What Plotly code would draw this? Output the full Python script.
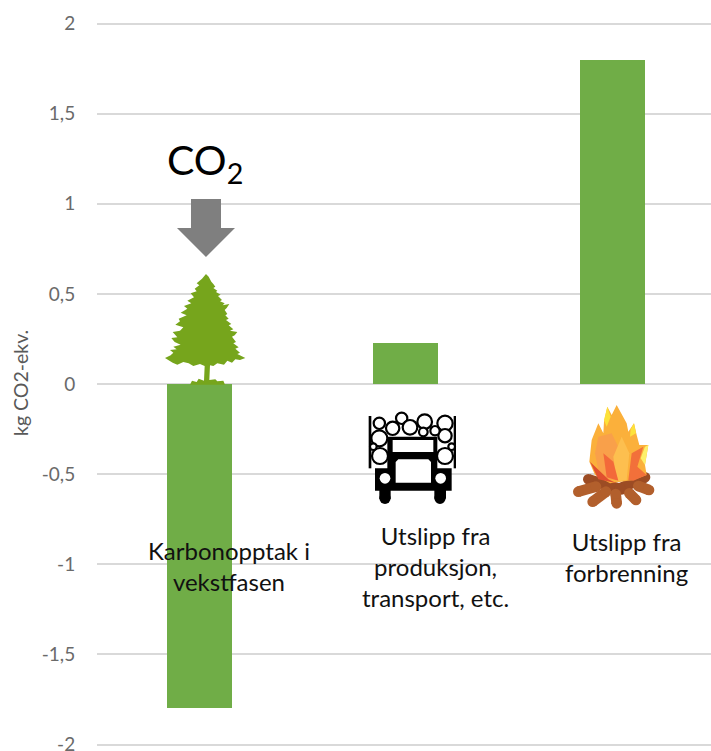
import plotly.graph_objects as go

# ---- data ----
categories = ["Karbonopptak i vekstfasen", "Utslipp fra produksjon, transport, etc.", "Utslipp fra forbrenning"]
values = [-1.8, 0.225, 1.8]
category_labels = ["Karbonopptak i<br>vekstfasen", "Utslipp fra<br>produksjon,<br>transport, etc.", "Utslipp fra<br>forbrenning"]
tick_values = [-2, -1.5, -1, -0.5, 0, 0.5, 1, 1.5, 2]
tick_labels = ["-2", "-1,5", "-1", "-0,5", "0", "0,5", "1", "1,5", "2"]
y_title = "kg CO2-ekv."

W, H = 711, 751
L, R, T, B = 97, 711, 10, 751
FONT = "Lato"


def px(x):
    return (x - L) / (R - L)


def py(y):
    return (B - y) / (B - T)


def path(points, ox=0, oy=0, s=1.0):
    parts = []
    for i, (x, y) in enumerate(points):
        parts.append(f"{'M' if i == 0 else 'L'}{px(ox + x * s):.5f},{py(oy + y * s):.5f}")
    return " ".join(parts) + " Z"


def poly(points, color, ox=0, oy=0, s=1.0, line=None, lw=0):
    return dict(type="path", xref="paper", yref="paper", path=path(points, ox, oy, s),
                fillcolor=color, line=dict(color=line or color, width=lw), layer="above")


def rect(x0, y0, x1, y1, color, ox=0, oy=0, s=1.0):
    return poly([(x0, y0), (x1, y0), (x1, y1), (x0, y1)], color, ox, oy, s)


def circle(cx, cy, r, fill, ox=0, oy=0, s=1.0, line=None, lw=0):
    return dict(type="circle", xref="paper", yref="paper",
                x0=px(ox + (cx - r) * s), x1=px(ox + (cx + r) * s),
                y0=py(oy + (cy + r) * s), y1=py(oy + (cy - r) * s),
                fillcolor=fill, line=dict(color=line or fill, width=lw), layer="above")


shapes = []
# CO2 arrow
ARROW = [(191, 199), (221, 199), (221, 228), (235, 228), (206, 257), (177, 228), (191, 228)]
shapes.append(poly(ARROW, "#7f7f7f"))

# tree silhouette (zoom-crop coordinates)
TREE = [(228, 432), (236, 440), (244, 455), (250, 462), (256, 470), (250, 474), (262, 482), (258, 486), (272, 494),
        (264, 498), (276, 510), (270, 514), (284, 520), (278, 526), (298, 522), (290, 534), (284, 540), (292, 552),
        (286, 556), (296, 566), (288, 570), (304, 582), (296, 586), (310, 598), (300, 602), (322, 606), (314, 616),
        (306, 620), (318, 636), (310, 640), (326, 652), (316, 656), (330, 668), (322, 672), (346, 684), (330, 690),
        (316, 688), (306, 698), (292, 692), (282, 704), (262, 700), (250, 708), (240, 706), (238, 750), (256, 748),
        (262, 754), (280, 752), (285, 764), (180, 764), (186, 752), (200, 756), (206, 746), (222, 752), (224, 708),
        (210, 702), (190, 708), (176, 700), (160, 696), (142, 704), (128, 698), (105, 684), (122, 676), (130, 668),
        (120, 660), (140, 658), (130, 650), (152, 644), (134, 636), (124, 624), (142, 622), (128, 606), (150, 602),
        (160, 592), (136, 584), (150, 574), (146, 566), (170, 556), (152, 548), (172, 536), (162, 528), (184, 520),
        (172, 512), (192, 502), (182, 490), (200, 484), (194, 476), (208, 466), (200, 460), (216, 446)]
shapes.append(poly(TREE, "#76a51c", 130, 130, 1 / 3))

# truck (zoom-crop coordinates)
tk = dict(ox=350, oy=390, s=1 / 3)
shapes.append(rect(56, 78, 64, 235, "#000000", **tk))
shapes.append(rect(311, 78, 318, 235, "#000000", **tk))
LOGS = [(88, 100, 17), (128, 115, 20), (155, 85, 17), (180, 112, 22), (224, 95, 22), (285, 100, 23), (88, 145, 24),
        (285, 137, 20), (90, 198, 24), (285, 198, 24), (255, 122, 14), (220, 126, 13), (70, 170, 10), (305, 170, 10)]
for cx, cy, r in LOGS:
    shapes.append(circle(cx, cy, r, "#ffffff", line="#000000", lw=2.2, **tk))
shapes.append(rect(112, 140, 262, 240, "#000000", **tk))
shapes.append(rect(75, 235, 305, 302, "#000000", **tk))
shapes.append(rect(88, 300, 122, 326, "#000000", **tk))
shapes.append(rect(253, 300, 288, 326, "#000000", **tk))
shapes.append(circle(105, 325, 17, "#000000", **tk))
shapes.append(circle(270, 325, 17, "#000000", **tk))
shapes.append(rect(128, 150, 250, 186, "#ffffff", **tk))
shapes.append(poly([(145, 208), (235, 208), (243, 216), (243, 278), (137, 278), (137, 216)], "#ffffff", **tk))
shapes.append(circle(105, 265, 16, "#ffffff", **tk))
shapes.append(circle(272, 265, 16, "#ffffff", **tk))

# campfire (zoom-crop coordinates)
fr = dict(ox=350, oy=390, s=1 / 3)
FIRE_LOGS = [
    ((715, 268), (815, 298), "#9c4c24"),
    ((810, 295), (885, 262), "#9c4c24"),
    ((865, 288), (897, 300), "#b25f2c"),
    ((685, 305), (738, 290), "#b25f2c"),
    ((728, 335), (768, 305), "#b25f2c"),
    ((797, 312), (800, 340), "#b25f2c"),
    ((838, 310), (858, 330), "#b25f2c"),
]
for (x0, y0), (x1, y1), col in FIRE_LOGS:
    dx, dy = x1 - x0, y1 - y0
    n = (dx * dx + dy * dy) ** 0.5
    nx, ny = -dy / n * 16, dx / n * 16
    shapes.append(poly([(x0 + nx, y0 + ny), (x1 + nx, y1 + ny), (x1 - nx, y1 - ny), (x0 - nx, y0 - ny)], col, **fr))
    shapes.append(circle(x0, y0, 16, col, **fr))
    shapes.append(circle(x1, y1, 16, col, **fr))

FIRE = [
    ([(762, 95), (772, 50), (785, 75), (800, 45), (830, 100), (835, 125), (852, 100), (860, 135), (868, 165), (895, 165),
      (885, 225), (890, 255), (850, 270), (780, 280), (735, 255), (718, 215), (725, 150), (745, 100), (760, 130)], "#fbb03b"),
    ([(772, 50), (782, 80), (770, 110), (762, 90)], "#fde23a"),
    ([(852, 100), (858, 130), (840, 140), (842, 118)], "#fde23a"),
    ([(885, 170), (895, 165), (885, 225), (872, 205)], "#fdf06a"),
    ([(745, 140), (785, 130), (812, 185), (820, 272), (775, 268), (745, 240), (735, 190)], "#f9a04a"),
    ([(815, 140), (838, 190), (830, 270), (800, 275), (790, 200)], "#fdbf4f"),
    ([(720, 215), (775, 268), (800, 280), (745, 268)], "#e0502f"),
    ([(835, 270), (845, 190), (880, 170), (862, 230), (890, 255), (850, 272)], "#f2703a"),
    ([(760, 190), (790, 215), (805, 272), (770, 262)], "#f3693a"),
]
for pts, col in FIRE:
    shapes.append(poly(pts, col, **fr))

fig = go.Figure(go.Bar(x=categories, y=values, marker=dict(color="#70ad47", line=dict(width=0)), width=0.315))

annotations = [
    dict(text="CO<sub>2</sub>", xref="paper", yref="paper", x=px(205), y=py(163), showarrow=False,
         font=dict(family=FONT, size=41, color="#000000"), xanchor="center", yanchor="middle"),
    dict(text=y_title, xref="paper", yref="paper", x=px(20), y=py(383), showarrow=False, textangle=-90,
         font=dict(family=FONT, size=19.5, color="#595959"), xanchor="center", yanchor="middle"),
]
label_pos = [(229, 566), (435, 566), (626, 557.5)]
for cat, lab, (lx, ly) in zip(categories, category_labels, label_pos):
    annotations.append(dict(text=lab, xref="paper", yref="paper", x=px(lx), y=py(ly), showarrow=False, align="center",
                            font=dict(family=FONT, size=24, color="#111111"), xanchor="center", yanchor="middle"))

fig.update_layout(
    width=W, height=H, autosize=False, paper_bgcolor="#ffffff", plot_bgcolor="#ffffff",
    margin=dict(l=L, r=W - R, t=T, b=H - B, pad=0), showlegend=False, bargap=0,
    xaxis=dict(type="category", categoryorder="array", categoryarray=categories, automargin=False,
               range=[-0.494, 2.479], showticklabels=False, showgrid=False, zeroline=False, showline=False, ticks=""),
    yaxis=dict(range=[-2.036, 2.0749], tickmode="array", tickvals=tick_values, ticktext=tick_labels,
               ticklabeloverflow="allow", automargin=False,
               showgrid=True, gridcolor="#d9d9d9", gridwidth=1.5, zeroline=True, zerolinecolor="#d9d9d9",
               zerolinewidth=1.5, showline=False, ticks="outside", ticklen=17, tickcolor="rgba(0,0,0,0)",
               tickfont=dict(family=FONT, size=19, color="#6a6a6a")),
    shapes=shapes, annotations=annotations,
)
fig.write_html("out.html", post_script="document.body.style.margin='0';document.body.style.overflow='hidden';",
               config={"displayModeBar": False})
